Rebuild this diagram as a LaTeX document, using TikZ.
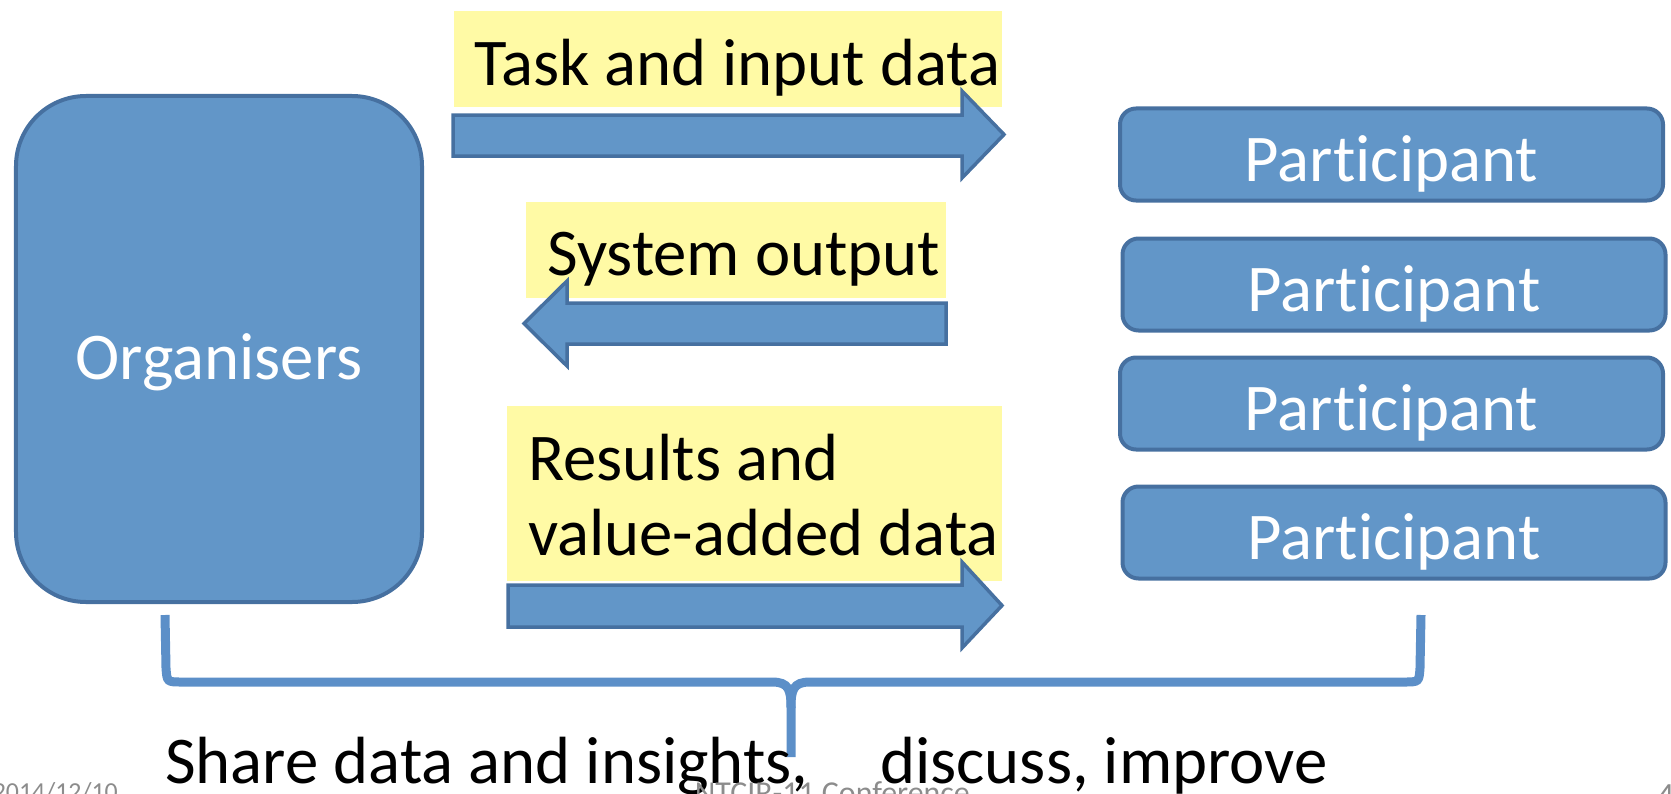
\documentclass[tikz,border=0pt]{standalone}
\usepackage{fontspec}
\setmainfont{Carlito}[Ligatures=NoCommon]
\definecolor{boxfill}{RGB}{98,150,200}
\definecolor{boxline}{RGB}{70,112,160}
\definecolor{labelyellow}{RGB}{255,250,165}
\definecolor{bracecol}{RGB}{92,143,200}
\definecolor{footgray}{RGB}{140,140,140}
\begin{document}
\begin{tikzpicture}[x=1bp,y=-1bp,
  bigfont/.style={font=\fontsize{67}{80}\selectfont},
  orgbox/.style={draw=boxline, fill=boxfill, line width=4bp, rounded corners=70bp,
    minimum width=406bp, minimum height=506bp, inner sep=0pt, text=white, bigfont,
    text height=60bp, text depth=0pt},
  partbox/.style={draw=boxline, fill=boxfill, line width=4bp, rounded corners=16bp,
    minimum width=543bp, minimum height=92bp, inner sep=0pt, text=white, bigfont,
    text height=54bp, text depth=0pt},
  blockarrow/.style={draw=boxline, fill=boxfill, line width=3.5bp, line join=miter},
  labelbg/.style={fill=labelyellow, inner sep=0pt, anchor=north west},
  labeltext/.style={anchor=base west, inner sep=0pt, bigfont},
  brace/.style={draw=bracecol, line width=9bp},
  footer/.style={inner sep=0pt, text=footgray}]
\useasboundingbox (0,0) rectangle (1671,794);

% Organisers
\node[orgbox] (org) at (219,349) {Organisers};

% Participants
\node[partbox] (p1) at (1391.5,154.5) {Participant};
\node[partbox] (p2) at (1394,284.5) {Participant};
\node[partbox] (p3) at (1391.5,403.5) {Participant};
\node[partbox] (p4) at (1394,532.5) {Participant};

% label backgrounds
\node[labelbg, minimum width=548bp, minimum height=96bp] (l1bg) at (454,11) {};
\node[labelbg, minimum width=420bp, minimum height=96bp] (l2bg) at (526,202) {};
\node[labelbg, minimum width=495bp, minimum height=175bp] (l3bg) at (507,406) {};

% label texts
\node[labeltext] (l1) at (474,85) {Task and input data};
\node[labeltext] (l2) at (547,275) {System output};
\node[labeltext] (l3a) at (528,480) {Results and};
\node[labeltext] (l3b) at (528,555) {value-added data};

% block arrows
\draw[blockarrow] (453,115) -- (962,115) -- (962,91) -- (1004,134.5) -- (962,178) -- (962,156) -- (453,156) -- cycle;
\draw[blockarrow] (946,303) -- (567,303) -- (567,281) -- (524,323.5) -- (567,366) -- (567,344) -- (946,344) -- cycle;
\draw[blockarrow] (508,585) -- (962,585) -- (962,562) -- (1002,605.5) -- (962,648) -- (962,627) -- (508,627) -- cycle;

% brace
\coordinate (bl) at (165,615);
\coordinate (br) at (1421,615);
\coordinate (bm) at (791,757);
\draw[brace] (bl) -- (166,668) .. controls (167,682) .. (182,682) -- (772,682)
  .. controls (789,682) and (791,690) .. (791,708) -- (bm);
\draw[brace] (br) -- (1420,668) .. controls (1419,682) .. (1404,682) -- (810,682)
  .. controls (793,682) and (791,690) .. (791,708);

% bottom text
\node[labeltext] (share) at (165,783) {Share data and insights,};
\node[labeltext] (disc) at (880,783) {discuss, improve};

% footer (cut off by page edge)
\node[footer, anchor=base east, font=\fontsize{26}{30}\selectfont] (date) at (118,800) {2014/12/10};
\node[footer, anchor=base east, font=\fontsize{32}{38}\selectfont] (conf) at (970,803) {NTCIR-11 Conference};
\node[footer, anchor=base west, font=\fontsize{34}{40}\selectfont] (page) at (1657,806) {4};
\end{tikzpicture}
\end{document}
